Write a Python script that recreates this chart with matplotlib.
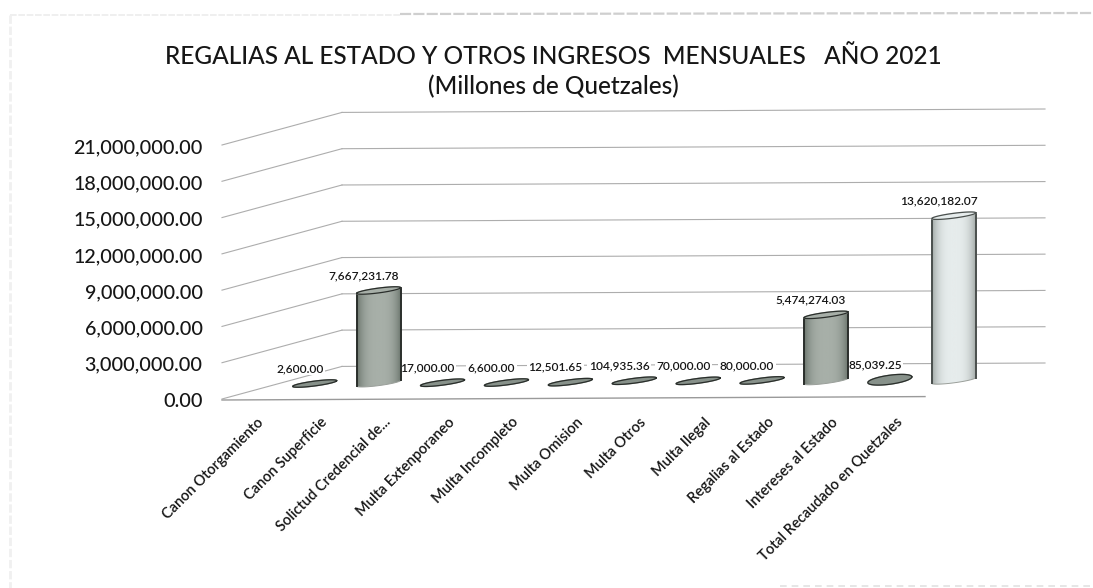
import matplotlib
matplotlib.use("Agg")
import matplotlib.pyplot as plt
import numpy as np
from matplotlib.colors import LinearSegmentedColormap
from matplotlib.lines import Line2D
from matplotlib.patches import PathPatch
from matplotlib.path import Path
from matplotlib.transforms import ScaledTranslation

categories = ["Canon Otorgamiento", "Canon Superficie", "Solictud Credencial de...",
              "Multa Extenporaneo", "Multa Incompleto", "Multa Omision", "Multa Otros",
              "Multa Ilegal", "Regalias al Estado", "Intereses al Estado",
              "Total Recaudado en Quetzales"]
values = [2600.00, 7667231.78, 17000.00, 6600.00, 12501.65, 104935.36,
          70000.00, 80000.00, 5474274.03, 85039.25, 13620182.07]
y_ticks = [0, 3000000, 6000000, 9000000, 12000000, 15000000, 18000000, 21000000]

plt.rcParams['font.family'] = ['Lato', 'DejaVu Sans']

W, H = 1093, 588
fig = plt.figure(figsize=(W / 100, H / 100), dpi=100)
# plot box = front plane of the 3d chart
ax = fig.add_axes([222 / W, 1 - 400 / H, 703 / W, 254 / H])
ax.set_xlim(-0.5, 10.5)
ax.set_ylim(0, 21000000)
for s in ax.spines.values():
    s.set_visible(False)

px_x = 11 / 703      # one pixel in x data units
px_y = 21000000 / 254  # one pixel in y data units
depth_x = 120 * px_x
depth_y = 33 * px_y
grid_c = '#adadad'
text_c = '#161616'

# the scan is a bit rotated: everything rises to the right
x_front = -0.5
x_back = x_front + depth_x
x_end = x_front + 823 * px_x
rise = 4 * px_y / (x_end - x_front)


def skew(x):
    return (x - x_front) * rise


# walls
for t in y_ticks:
    ax.plot([x_front, x_back], [t + 1 * px_y, t + depth_y + skew(x_back)], color=grid_c, lw=0.8, clip_on=False, zorder=1)
    ax.plot([x_back, x_end], [t + depth_y + skew(x_back), t + depth_y + skew(x_end)], color=grid_c, lw=0.8,
            clip_on=False, zorder=1)
ax.plot([-0.5, 10.5], [0, skew(10.5)], color='#9a9a9a', lw=1.0, clip_on=False, zorder=1)


def ellipse(cx, cy, a, b, tilt, t):
    return (cx + a * np.cos(t) * px_x,
            cy + (a * tilt * np.cos(t) + b * np.sin(t)) * px_y)


def cylinder(cx, base, val, col_side, col_edge, b):
    a, tilt = 22, 0.13
    top = base + val
    if val > 500000:
        t1 = np.linspace(np.pi, 2 * np.pi, 40)   # front half of the bottom
        t2 = np.linspace(0, np.pi, 40)           # back half of the top
        xb, yb = ellipse(cx, base, a, b, tilt, t1)
        xt, yt = ellipse(cx, top, a, b, tilt, t2)
        xs = np.r_[xb, xt]
        ys = np.r_[yb, yt]
        body = PathPatch(Path(np.c_[xs, ys]), fc='none', ec='none', zorder=3, clip_on=False)
        ax.add_patch(body)
        grad = np.abs(np.linspace(-1, 1, 128))[None, :] ** 3
        cmap = LinearSegmentedColormap.from_list('c', col_side)
        im = ax.imshow(grad, extent=(cx - a * px_x, cx + a * px_x, base - 10 * px_y, top + 10 * px_y),
                       cmap=cmap, aspect='auto', zorder=3)
        im.set_clip_box(fig.bbox)
        im.set_clip_path(body)
        ax.plot(*ellipse(cx, base, a, b, tilt, t1), color='#9a9f9a', lw=0.7, zorder=4, clip_on=False)
        ax.plot([xb[0], xt[-1]], [yb[0], yt[-1]], color=col_edge, lw=1.4, zorder=4, clip_on=False)
        ax.plot([xb[-1], xt[0]], [yb[-1], yt[0]], color=col_edge, lw=1.4, zorder=4, clip_on=False)
    tt = np.linspace(0, 2 * np.pi, 80)
    xe, ye = ellipse(cx, top, a, b, tilt, tt)
    ax.fill(xe, ye, color=col_side[0] if val > 500000 else '#87918a', zorder=5, clip_on=False)
    ax.plot(xe, ye, color=col_edge, lw=0.9, zorder=5, clip_on=False)


bar_shift = 0.95
dark = ['#a7afa8', '#6c766e']
light = ['#e6ecec', '#a2a9a7']
for i, v in enumerate(values):
    cyl = light if i == len(values) - 1 else dark
    b = 4.5 if i == 9 else 2.4
    edge = '#2a2e2b' if i != 10 else '#4a4f4d'
    cx = i + bar_shift
    base = 16 * px_y + skew(cx)
    cylinder(cx, base, v, cyl, edge, b)
    ax.annotate(f"{v:,.2f}", (cx, base + v), xytext=(-15 * 0.72, 15 * 0.72),
                textcoords='offset points', ha='center', va='center', fontsize=8.6,
                fontweight='semibold', color=text_c, zorder=2,
                bbox=dict(fc='white', ec='none', pad=1.0), annotation_clip=False)

ax.set_xlim(-0.5, 10.5)
ax.set_ylim(0, 21000000)

ax.set_yticks(y_ticks)
ax.set_yticklabels([f"{t:,.2f}" for t in y_ticks], fontsize=14.2, fontweight='medium', color=text_c)
ax.tick_params(axis='y', length=0, pad=14)
ax.set_xticks(range(len(categories)))
ax.set_xticklabels(categories, rotation=45, ha='right', rotation_mode='anchor',
                   fontsize=10.5, fontweight='semibold', color=text_c)
ax.tick_params(axis='x', length=0, pad=11)
shift = ScaledTranslation(1.5 / 72, 0, fig.dpi_scale_trans)
for lab in ax.get_xticklabels():
    lab.set_transform(lab.get_transform() + shift)

fig.text(553 / W, 1 - 57 / H, "REGALIAS AL ESTADO Y OTROS INGRESOS  MENSUALES   AÑO 2021",
         ha='center', va='center', fontsize=17.6, fontweight='medium', color=text_c)
fig.text(553 / W, 1 - 87 / H, "(Millones de Quetzales)",
         ha='center', va='center', fontsize=17.6, fontweight='medium', color=text_c)

# scan edges of the paper
fig.add_artist(Line2D([10 / W, 400 / W], [1 - 15 / H, 1 - 15 / H], color='#ececec', lw=1.2, ls=(0, (4, 1))))
fig.add_artist(Line2D([400 / W, 1093 / W], [1 - 14 / H, 1 - 13 / H], color='#cfcfcf', lw=1.6, ls=(0, (5, 1))))
fig.add_artist(Line2D([10 / W, 10 / W], [1 - 15 / H, 0], color='#f0f0f0', lw=2, ls=(0, (3, 1))))
fig.add_artist(Line2D([780 / W, 1093 / W], [2.5 / H, 2.5 / H], color='#e2e2e2', lw=1.2, ls=(0, (4, 3))))

fig.savefig('out.png', dpi=100)
